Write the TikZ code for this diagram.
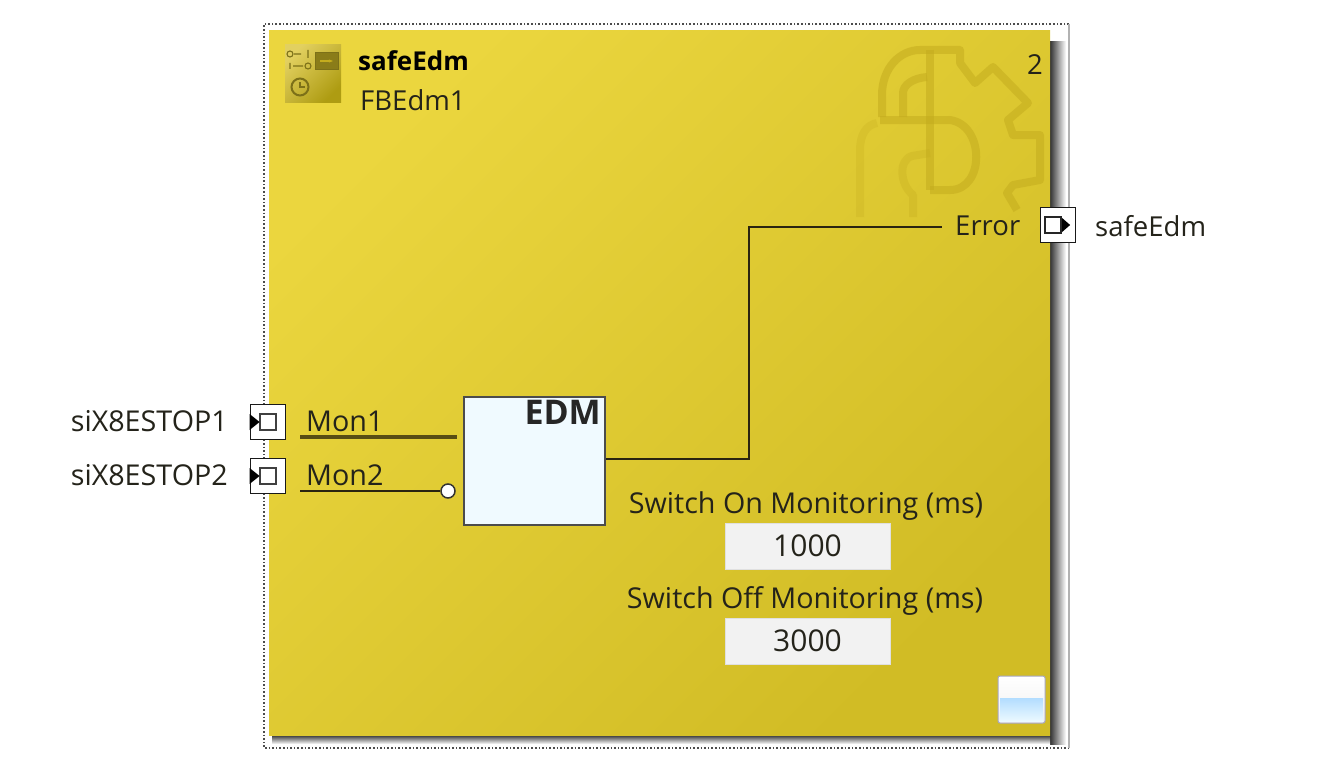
\documentclass[tikz,border=0pt]{standalone}
\usepackage{fontspec}
\setmainfont{Open Sans}
\usetikzlibrary{arrows.meta, positioning, calc}
\definecolor{wire}{HTML}{2A2410}
\definecolor{inktext}{HTML}{24231A}
\definecolor{gearcol}{HTML}{C4AC1E}
\definecolor{blockA}{HTML}{EBD63E}
\definecolor{blockB}{HTML}{D1BC25}
\definecolor{iconA}{HTML}{E2D060}
\definecolor{iconB}{HTML}{AE9C12}
\definecolor{iconink}{HTML}{7C7018}
\tikzset{
  txt/.style={inner sep=0pt, text=inktext, font=\fontsize{27.5}{30}\selectfont},
  txtwide/.style={inner sep=0pt, text=inktext, font=\fontsize{28.7}{30}\selectfont},
  port/.style={draw=black!90, line width=1.8pt, fill=white, minimum width=35pt, minimum height=35pt, inner sep=0pt},
  pinbox/.style={draw=black!75, line width=2.2pt, fill=white, minimum width=16pt, minimum height=16pt, inner sep=0pt},
  field/.style={draw=black!12, line width=1pt, fill=black!5, minimum width=165pt, minimum height=46pt, inner sep=0pt,
    text=inktext, font=\fontsize{30}{30}\selectfont},
  wireline/.style={wire, line width=2.8pt},
  watermark/.style={gearcol, line width=8pt, line join=round, opacity=0.55},
}
\begin{document}
\begin{tikzpicture}[x=1pt, y=-1pt]
    \useasboundingbox (0,0) rectangle (1317,760);
    \fill[white] (0,0) rectangle (1317,760);
    % frame and shadow
    \draw[black!70, line width=1.6pt, dotted] (1069,24) -- (264,24) -- (264,748) -- (1069,748);
    \draw[black!30, line width=1.6pt] (1069,24) -- (1069,748);
    \shade[left color=black!80, middle color=black!62, right color=white] (1050,42) rectangle (1066,744);
    \shade[top color=black!80, middle color=black!62, bottom color=white] (272,735) rectangle (1050,744);
    \node[minimum width=781pt, minimum height=704pt, inner sep=0pt, shading=axis,
      left color=blockA, right color=blockB, shading angle=45] (block) at (659.5,383) {};
    % watermark
    \draw[watermark] (882,117) -- (882,95) .. controls (882,68) and (900,50) .. (920,50) -- (960,50) -- (960,63) -- (975,83)
      -- (993,67) -- (1028,103) -- (1008,120) -- (1013,135) -- (1040,135) -- (1040,180)
      -- (1013,185) -- (1007,193) -- (1017,210);
    \draw[watermark] (930,50) -- (930,190);
    \draw[watermark] (903,117) -- (903,93) .. controls (903,85) and (913,78) .. (927,77);
    \draw[watermark] (880,120) -- (950,120) .. controls (985,125) and (985,190) .. (950,190) -- (930,190);
    \draw[watermark, opacity=0.25] (877,123) .. controls (866,125) and (860,135) .. (860,150) -- (860,217);
    \draw[watermark, opacity=0.3] (913,217) -- (913,195) .. controls (900,185) and (898,160) .. (912,156) -- (930,153);
    % icon
    \node[minimum width=56pt, minimum height=57pt, inner sep=0pt, shading=axis,
      left color=iconA, right color=iconB, shading angle=45] (icon) at (313,73.5) {};
    \node[draw=iconink, line width=1.5pt, fill=iconink!80!gearcol, minimum width=23pt, minimum height=17pt, inner sep=0pt] (iconbox) at (327,61) {};
    \draw[gearcol, line width=1.5pt, -{Stealth[length=4pt]}] (320,61) -- (333,61);
    \draw[iconink, line width=1.1pt] (290,54) circle (3pt) (294,54) -- (301,54) (308,50) -- (308,58);
    \draw[iconink, line width=1.1pt] (290,63) -- (290,69) (293,66) -- (303,66) (308,66) circle (3pt);
    \node[circle, draw=iconink, line width=2pt, minimum size=17pt, inner sep=0pt] (clock) at (300,87) {};
    \draw[iconink, line width=1.4pt] (clock.center) ++(0,-5) -- (clock.center) -- ++(5,0);
    % texts
    \node[txt, anchor=west, text=black, font=\bfseries\fontsize{26}{30}\selectfont] (title) at (358,61) {safeEdm};
    \node[txt, anchor=west] (inst) at (360,100) {FBEdm1};
    \node[txt, anchor=east] (order) at (1043,65) {2};
    \node[txt, anchor=west] (error) at (955,226) {Error};
    \node[txt, anchor=west] (out) at (1095,226) {safeEdm};
    \node[txtwide, anchor=east] (in1) at (228,421) {siX8ESTOP1};
    \node[txtwide, anchor=east] (in2) at (228,475) {siX8ESTOP2};
    \node[txtwide, anchor=west] (mon1) at (306,421) {Mon1};
    \node[txtwide, anchor=west] (mon2) at (306,475) {Mon2};
    % function block
    \node[draw=black!70, line width=2.6pt, fill=blue!30!cyan!6, minimum width=141pt, minimum height=128pt, inner sep=0pt] (edm) at (534.5,461) {};
    \node[anchor=north east, inner sep=0pt, font=\bfseries\fontsize{34}{34}\selectfont, text=black!85] (edmtext) at (601,400) {EDM};
    \node[txtwide, anchor=center] (on) at (806,506) {Switch On Monitoring (ms)};
    \node[field] (onval) at (807.5,546) {1000};
    \node[txtwide, anchor=center] (off) at (805,601) {Switch Off Monitoring (ms)};
    \node[field] (offval) at (807.5,641) {3000};
    % ports
    \node[port] (p1) at (268,422) {};
    \node[pinbox] (p1in) at (268,422) {};
    \node[port] (p2) at (268,476) {};
    \node[pinbox] (p2in) at (268,476) {};
    \fill[black] (p1.west) ++(0,-8) -- ++(10,8) -- ++(-10,8) -- cycle;
    \fill[black] (p2.west) ++(0,-8) -- ++(10,8) -- ++(-10,8) -- cycle;
    \node[port] (q) at (1058,225) {};
    \node[pinbox, draw=black!85] (qout) at (1053,225) {};
    \fill[black] (qout.east) ++(0,-7) -- ++(8,7) -- ++(-8,7) -- cycle;
    % wires
    \coordinate (m1a) at (300,437);
    \coordinate (m1b) at (457,437);
    \coordinate (m2a) at (300,491);
    \coordinate (bend) at (749,227);
    \coordinate (errend) at (942,227);
    \node[circle, draw=black!80, line width=1.5pt, fill=white, minimum size=14pt, inner sep=0pt] (neg) at (448,491) {};
    \draw[wire!70!gearcol, line width=3.5pt] (m1a) -- (m1b);
    \draw[wireline] (m2a) -- (neg);
    \draw[wireline] (edm.east |- 0,459) -| (bend) -- (errend);
    % minimize button
    \node[draw=blue!30!black!35, line width=1pt, rounded corners=2pt, minimum width=47pt, minimum height=47pt, inner sep=0pt,
      top color=white, bottom color=black!6] (btn) at (1021.5,699.5) {};
    \shade[top color=blue!45!cyan!30, bottom color=blue!30!cyan!8] (1000,698) rectangle (1043,721);
  \end{tikzpicture}
\end{document}
